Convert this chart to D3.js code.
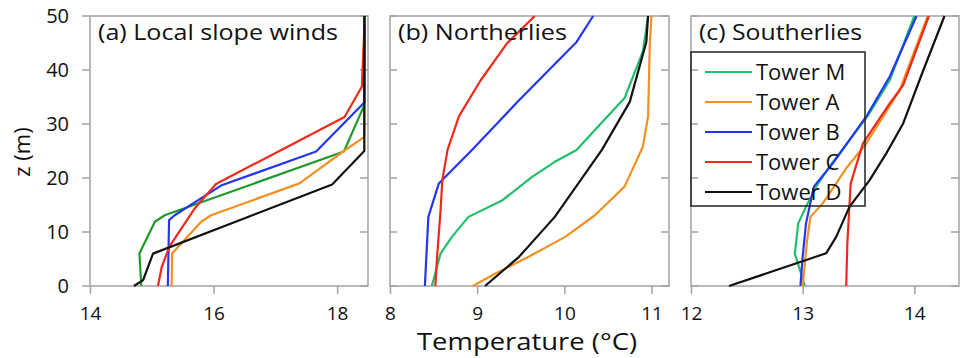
<!DOCTYPE html>
<head>
<meta charset="utf-8">
<title>Temperature profiles</title>
<script src="https://cdn.jsdelivr.net/npm/d3@7/dist/d3.min.js"></script>
<style>
body { margin: 0; background: #fff; }
text { font-family: "Open Sans", Lato, sans-serif; fill: #111; }
</style>
</head>
<body>
<script>
// tower names and line colours
var towers = ["Tower M", "Tower A", "Tower B", "Tower C", "Tower D"];
var colors = ["#1fbf6a", "#f39024", "#2436f0", "#ee2a1a", "#111111"];

var zTicks = [0, 10, 20, 30, 40, 50];

// (a) Local slope winds, points are [temperature, height]
var slopeM = [[14.83,0],[14.80,6],[15.05,11.9],[15.21,13.1],[18.11,24.9],[18.44,33.5],[18.45,50]];
var slopeA = [[15.32,0],[15.33,6],[15.80,11.9],[15.96,13.1],[17.39,19],[18.11,25],[18.44,27.6],[18.45,50]];
var slopeB = [[15.26,0],[15.28,12.2],[15.37,13.1],[16.12,18.6],[17.66,24.9],[18.44,34],[18.45,50]];
var slopeC = [[15.10,0],[15.16,3.5],[15.29,7.4],[15.69,14.3],[16.04,18.9],[18.12,31.3],[18.40,36.9],[18.45,50]];
var slopeD = [[14.71,0],[14.86,1.1],[15.02,6],[17.92,18.8],[18.44,25],[18.44,50]];

// (b) Northerlies
var northM = [[8.48,0],[8.58,6],[8.71,9.1],[8.90,12.8],[9.29,15.9],[9.63,20.2],[9.89,23],[10.14,25.2],[10.35,28.9],[10.69,34.8],[10.90,43.4],[10.96,50]];
var northA = [[8.95,0],[9.21,2.3],[9.59,5.4],[10.01,9.1],[10.35,13.1],[10.69,18.4],[10.90,25.8],[10.96,31.4],[10.98,44.9],[11.0,50]];
var northB = [[8.40,0],[8.44,12.8],[8.56,19],[8.94,25.2],[9.48,34.4],[10.14,45.2],[10.33,50]];
var northC = [[8.52,0],[8.54,5.4],[8.58,14],[8.60,19.6],[8.66,25.2],[8.79,31.4],[9.04,38.1],[9.34,44.9],[9.66,50]];
var northD = [[9.09,0],[9.48,5.4],[9.89,12.8],[10.16,19],[10.43,25.2],[10.75,34.1],[10.94,45.2],[10.96,50]];

// (c) Southerlies
var southM = [[13.02,0],[12.93,6],[12.96,11.6],[13.03,14.7],[13.12,18.4],[13.24,22.1],[13.58,31.4],[13.78,38.1],[14.0,50]];
var southA = [[13.0,0],[13.04,8.5],[13.07,12.8],[13.18,15.3],[13.39,21.8],[13.57,26.4],[13.87,36.3],[14.12,50]];
var southB = [[12.98,0],[13.0,5.4],[13.03,11.6],[13.10,18.4],[13.27,22.7],[13.57,31.4],[13.78,38.8],[14.02,50]];
var southC = [[13.39,0],[13.40,7.9],[13.43,19],[13.54,26.4],[13.78,33.8],[13.90,37.2],[14.13,50]];
var southD = [[12.34,0],[13.21,6.05],[13.30,9.1],[13.42,14.7],[13.60,19.6],[13.75,24.6],[13.90,30.1],[14.07,39.4],[14.27,50]];

var panels = [
  {title: "(a) Local slope winds", tw: 240, x0: 90, x1: 368, dom: [14, 18.5], ticks: [14, 16, 18],
   series: [slopeM, slopeA, slopeB, slopeC, slopeD], green: "#1f9a2a", outTicks: true},
  {title: "(b) Northerlies", tw: 169, x0: 390, x1: 669, dom: [8, 11.2], ticks: [8, 9, 10, 11],
   series: [northM, northA, northB, northC, northD]},
  {title: "(c) Southerlies", tw: 163, x0: 691, x1: 959, dom: [12, 14.4], ticks: [12, 13, 14],
   series: [southM, southA, southB, southC, southD], legend: true}
];

var W = 961, H = 358;
var top_y = 16, bot_y = 286;
var frameColor = "#a3a3a3";

var svg = d3.select("body").append("svg")
  .attr("width", W)
  .attr("height", H);

var y = d3.scaleLinear().domain([0, 50]).range([bot_y, top_y]);

panels.forEach(function(p, pi) {
  var x = d3.scaleLinear().domain(p.dom).range([p.x0, p.x1]);
  var g = svg.append("g");

  // frame
  g.append("rect")
    .attr("x", p.x0).attr("y", top_y)
    .attr("width", p.x1 - p.x0).attr("height", bot_y - top_y)
    .attr("fill", "none").attr("stroke", frameColor).attr("stroke-width", 1.5);

  // y ticks, left side (outward for the first panel, inward for the others)
  var lt = p.outTicks ? -8 : 7;
  g.selectAll(".yl").data(zTicks).enter().append("line")
    .attr("x1", p.x0).attr("x2", p.x0 + lt)
    .attr("y1", function(d) { return y(d); }).attr("y2", function(d) { return y(d); })
    .attr("stroke", frameColor).attr("stroke-width", 1.5);
  // y ticks, right side (inward)
  g.selectAll(".yr").data(zTicks).enter().append("line")
    .attr("x1", p.x1).attr("x2", p.x1 - 8)
    .attr("y1", function(d) { return y(d); }).attr("y2", function(d) { return y(d); })
    .attr("stroke", frameColor).attr("stroke-width", 1.5);

  // x ticks
  var xAxis = d3.axisBottom(x).tickValues(p.ticks).tickFormat(d3.format("d"))
    .tickSize(8).tickSizeOuter(0).tickPadding(13);
  var ax = g.append("g").attr("transform", "translate(0," + bot_y + ")").call(xAxis);
  ax.select(".domain").remove();
  ax.selectAll("line").attr("stroke", frameColor).attr("stroke-width", 1.5);
  ax.selectAll("text").style("font-size", "19px").attr("fill", "#111")
    .style("font-family", "'Open Sans', sans-serif");

  // y tick labels only on first panel
  if (pi == 0) {
    g.selectAll(".ylab").data(zTicks).enter().append("text")
      .attr("x", p.x0 - 21).attr("y", function(d) { return y(d); })
      .attr("dy", "0.35em")
      .attr("text-anchor", "end")
      .style("font-size", "20px")
      .text(function(d) { return d; });
  }

  // profiles
  var line = d3.line()
    .x(function(d) { return x(d[0]); })
    .y(function(d) { return y(d[1]); });

  p.series.forEach(function(s, i) {
    var c = colors[i];
    if (i == 0 && p.green) c = p.green;
    g.append("path")
      .attr("d", line(s))
      .attr("fill", "none")
      .attr("stroke", c)
      .attr("stroke-width", 2.2)
      .attr("stroke-linejoin", "round");
  });

  // panel title
  g.append("text")
    .attr("x", p.x0 + 8).attr("y", top_y + 24)
    .attr("textLength", p.tw).attr("lengthAdjust", "spacingAndGlyphs")
    .style("font-size", "22px")
    .text(p.title);

  // legend
  if (p.legend) {
    var lx = 691, ly = 52, lw = 174, lh = 154;
    var lg = g.append("g");
    lg.append("rect")
      .attr("x", lx).attr("y", ly).attr("width", lw).attr("height", lh)
      .attr("fill", "none").attr("stroke", "#222").attr("stroke-width", 1.5);
    towers.forEach(function(t, i) {
      var yy = ly + 20 + i * 30;
      lg.append("line")
        .attr("x1", lx + 14).attr("x2", lx + 61)
        .attr("y1", yy).attr("y2", yy)
        .attr("stroke", colors[i]).attr("stroke-width", 2.2);
      lg.append("text")
        .attr("x", lx + 65).attr("y", yy).attr("dy", "0.35em")
        .style("font-size", "22px")
        .text(t);
    });
  }
});

// axis titles
svg.append("text")
  .attr("x", 527).attr("y", 350)
  .attr("text-anchor", "middle")
  .attr("textLength", 220).attr("lengthAdjust", "spacingAndGlyphs")
  .style("font-size", "23px")
  .text("Temperature (°C)");

svg.append("text")
  .attr("transform", "translate(30,152) rotate(-90)")
  .attr("text-anchor", "middle")
  .style("font-size", "22px")
  .text("z (m)");
</script>
</body>
